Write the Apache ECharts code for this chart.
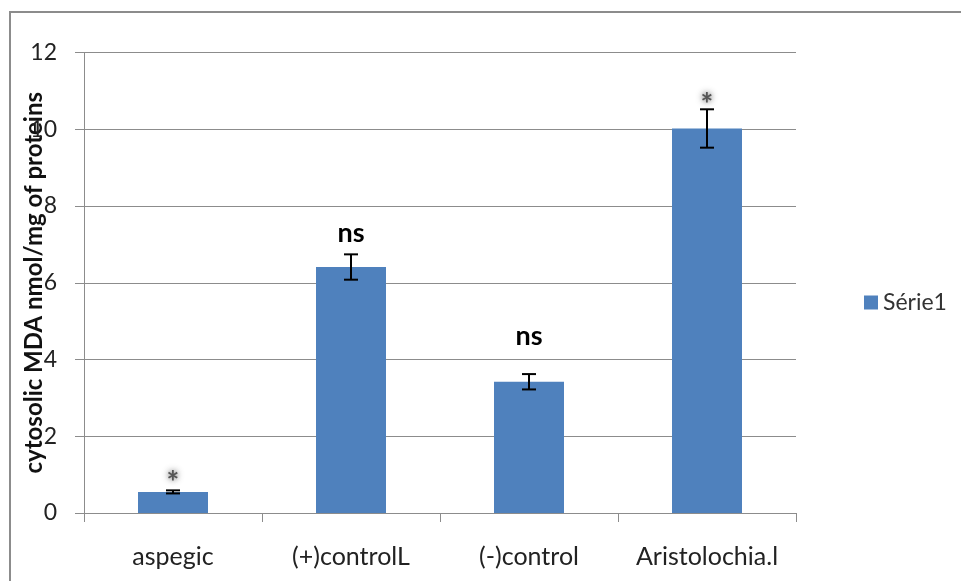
<!DOCTYPE html>
<html>
<head>
<meta charset="utf-8">
<script src="https://cdn.jsdelivr.net/npm/echarts@6/dist/echarts.min.js"></script>
<style>
  html, body { margin: 0; padding: 0; background: #fff; }
  #chart { width: 961px; height: 581px; }
</style>
</head>
<body>
<div id="chart"></div>
<script>
// Cytosolic MDA per treatment group (mean ± error)
const categories = ['aspegic', '(+)controlL', '(-)control', 'Aristolochia.l'];
const means = [0.55, 6.41, 3.42, 10.02];
const errors = [0.04, 0.33, 0.2, 0.5];
const significance = ['*', 'ns', 'ns', '*'];
const yTicks = { min: 0, max: 12, step: 2 };
const seriesName = 'Série1';

// Distance (px) of each significance mark above its error bar
const markLift = [14, 21, 38, 11];

const FONT = 'Lato, "Open Sans", sans-serif';
const GRAY = '#8c8c8c';

const chart = echarts.init(document.getElementById('chart'), null, { renderer: 'canvas' });

const errorData = categories.map((c, i) => [i, means[i], errors[i]]);

chart.setOption({
  animation: false,
  backgroundColor: '#fff',
  textStyle: { fontFamily: FONT },
  graphic: [{
    type: 'polyline',
    shape: { points: [[10, 581], [10, 12], [961, 12]] },
    style: { stroke: GRAY, lineWidth: 2, fill: null }
  }],
  legend: {
    data: [seriesName],
    orient: 'vertical',
    left: 859,
    top: 286,
    itemWidth: 14,
    itemHeight: 14,
    itemGap: 8,
    icon: 'rect',
    textStyle: { fontSize: 23, color: '#333', fontFamily: FONT }
  },
  grid: {
    left: 84, right: 165, top: 52.5, bottom: 68,
    containLabel: false,
    outerBoundsMode: 'none'
  },
  xAxis: {
    type: 'category',
    data: categories,
    boundaryGap: true,
    axisLine: { lineStyle: { color: GRAY, width: 1 } },
    axisTick: { show: true, interval: 0, length: 9, lineStyle: { color: GRAY } },
    axisLabel: { interval: 0, hideOverlap: false, margin: 31, fontSize: 25, color: '#222', fontFamily: FONT }
  },
  yAxis: {
    type: 'value',
    min: yTicks.min,
    max: yTicks.max,
    interval: yTicks.step,
    name: 'cytosolic MDA nmol/mg of proteins',
    nameLocation: 'middle',
    nameGap: 38,
    nameMoveOverlap: false,
    nameTextStyle: { fontSize: 24, fontWeight: 'bold', color: '#111', fontFamily: FONT },
    axisLine: { show: true, lineStyle: { color: GRAY, width: 1 } },
    axisTick: { show: true, length: 9, lineStyle: { color: GRAY } },
    axisLabel: { margin: 27, fontSize: 23, color: '#222', fontFamily: FONT },
    splitLine: { lineStyle: { color: GRAY, width: 1 } }
  },
  series: [
    {
      name: seriesName,
      type: 'bar',
      data: means,
      barWidth: 70,
      itemStyle: { color: '#4F81BD' }
    },
    {
      type: 'custom',
      name: 'error',
      data: errorData,
      z: 10,
      renderItem: function (params, api) {
        const x = api.value(0);
        const m = api.value(1);
        const e = api.value(2);
        const top = api.coord([x, m + e]);
        const bot = api.coord([x, m - e]);
        const half = 7;
        const style = { stroke: '#000', lineWidth: 2 };
        const sig = significance[params.dataIndex];
        const lift = markLift[params.dataIndex];
        const isStar = sig === '*';
        return {
          type: 'group',
          children: [
            { type: 'line', shape: { x1: top[0], y1: top[1], x2: bot[0], y2: bot[1] }, style },
            { type: 'line', shape: { x1: top[0] - half, y1: top[1], x2: top[0] + half, y2: top[1] }, style },
            { type: 'line', shape: { x1: bot[0] - half, y1: bot[1], x2: bot[0] + half, y2: bot[1] }, style },
            {
              type: 'text',
              x: top[0],
              y: top[1] - lift + (isStar ? 7 : 0),
              style: {
                text: sig,
                x: 0, y: 0,
                align: 'center',
                verticalAlign: 'middle',
                fontFamily: FONT,
                fontSize: isStar ? 30 : 27,
                fontWeight: 'bold',
                fill: isStar ? '#555' : '#000',
                textShadowColor: isStar ? 'rgba(60,60,60,0.9)' : 'transparent',
                textShadowBlur: isStar ? 6 : 0
              }
            }
          ]
        };
      }
    }
  ]
});
</script>
</body>
</html>
